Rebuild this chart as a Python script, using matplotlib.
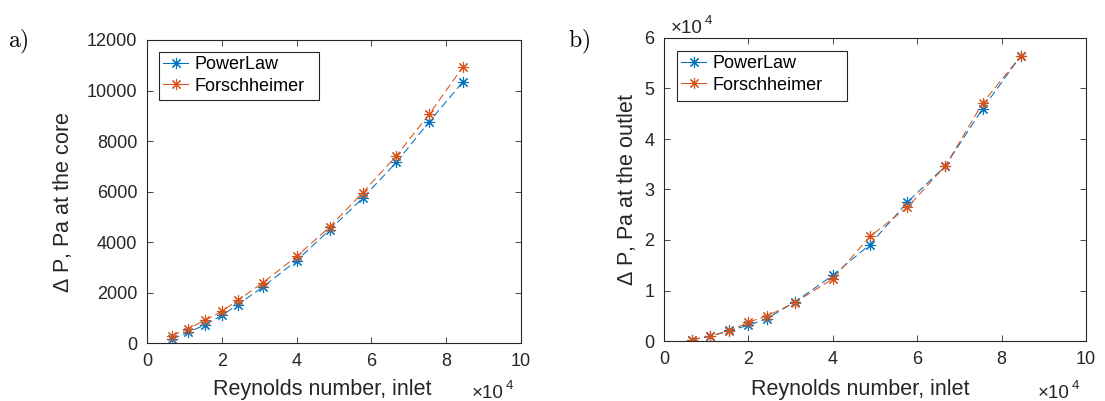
import matplotlib
matplotlib.use("Agg")
import matplotlib.pyplot as plt
from matplotlib.patches import Rectangle
import numpy as np

plt.rcParams['font.family'] = ['Liberation Sans', 'DejaVu Sans']
plt.rcParams['mathtext.fontset'] = 'custom'
plt.rcParams['mathtext.rm'] = 'Liberation Sans'

# Reynolds number at the inlet
reynolds = np.array([6700, 11000, 15500, 20000, 24300, 31000, 40000,
                     48800, 57700, 66700, 75500, 84500])

# Pressure drop at the core, Pa
core_powerlaw = [160, 420, 720, 1090, 1520, 2220, 3260, 4480, 5740, 7160, 8770, 10350]
core_forsch = [290, 570, 900, 1250, 1690, 2390, 3430, 4590, 5960, 7420, 9070, 10940]

# Pressure drop at the outlet, Pa
outlet_powerlaw = [260, 920, 2100, 3100, 4400, 7700, 13000, 19100, 27500, 34700, 46000, 56400]
outlet_forsch = [260, 1060, 1900, 3760, 4900, 7600, 12300, 20700, 26500, 34700, 47100, 56400]

series_names = ['PowerLaw', 'Forschheimer']
colors = ['#0072BD', '#D95319']
x_ticks = [0, 2, 4, 6, 8, 10]

TICK_FS = 13
LABEL_FS = 15.5
LEG_FS = 13
TXT = '#262626'
star = (8, 2, 0)

fig = plt.figure(figsize=(11.05, 4.01), dpi=100)
W, H = 1105, 401


def fx(x):
    return x / W


def fy(y):
    return 1 - y / H


def px_axes(x0, y0, x1, y1):
    return fig.add_axes([fx(x0), fy(y1), (x1 - x0) / W, (y1 - y0) / H])


def style_axes(ax):
    ax.tick_params(direction='in', top=True, right=True, length=4,
                   width=0.6, labelsize=TICK_FS, colors=TXT, pad=7)
    for s in ax.spines.values():
        s.set_linewidth(0.8)
        s.set_color(TXT)
    ax.set_xlim(0, 100000)
    ax.set_xticks([t * 1e4 for t in x_ticks])
    ax.set_xticklabels([str(t) for t in x_ticks])


def draw(ax, ys, box):
    for name, y, c in zip(series_names, ys, colors):
        ax.plot(reynolds, y, linestyle=(0, (7.5, 4)), linewidth=0.75, color=c,
                marker=star, markersize=8, markeredgewidth=0.8, label=name)
    x0, y0, x1, y1 = box
    leg = ax.legend(loc='upper left', bbox_to_anchor=(fx(x0 + 4), fy(y0 + 4)),
                    bbox_transform=fig.transFigure, borderaxespad=0,
                    fontsize=LEG_FS, frameon=False, handlelength=1.4,
                    handletextpad=0.35, borderpad=0, labelspacing=0.25)
    for h in leg.get_lines():
        h.set_linestyle('-')
    leg.set_zorder(6)
    frame = Rectangle((fx(x0), fy(y1)), (x1 - x0) / W, (y1 - y0) / H,
                      transform=fig.transFigure, facecolor='white',
                      edgecolor=TXT, linewidth=0.8, clip_on=False, zorder=5)
    ax.add_artist(frame)


# panel a) core
ax1 = px_axes(147, 40, 521, 343)
style_axes(ax1)
ax1.set_ylim(0, 12000)
ax1.set_yticks(np.arange(0, 12001, 2000))
draw(ax1, [core_powerlaw, core_forsch], (159, 52, 319, 100))

# panel b) outlet
ax2 = px_axes(664, 38, 1086, 341)
style_axes(ax2)
ax2.set_ylim(0, 60000)
yt = [0, 1, 2, 3, 4, 5, 6]
ax2.set_yticks([v * 1e4 for v in yt])
ax2.set_yticklabels([str(v) for v in yt])
draw(ax2, [outlet_powerlaw, outlet_forsch], (677, 51, 847, 101))


def ftext(x, y, s, **kw):
    fig.text(fx(x), fy(y), s, **kw)


# axis labels
for xc in (322, 860):
    ftext(xc, 390, 'Reynolds number, inlet', ha='center', va='center',
          fontsize=LABEL_FS, color=TXT)
ftext(62, 202, r'$\Delta$ P, Pa at the core', ha='center', va='center',
      rotation=90, fontsize=LABEL_FS, color=TXT)
ftext(627, 189, r'$\Delta$ P, Pa at the outlet', ha='center', va='center',
      rotation=90, fontsize=LABEL_FS, color=TXT)


# exponent multipliers: "x10" with a raised "4"
def multiplier(x_right_of_10, baseline):
    ftext(x_right_of_10, baseline, '\u00d710', ha='right', va='baseline',
          fontsize=TICK_FS + 0.5, color=TXT)
    ftext(x_right_of_10 + 2, baseline - 9, '4', ha='left', va='baseline',
          fontsize=9.5, color=TXT)


multiplier(504, 398)
multiplier(1070, 398)
multiplier(703, 33)

# panel tags
fig.text(fx(8), fy(47), r'$\mathrm{a)}$', fontsize=17, math_fontfamily='cm',
         ha='left', va='baseline')
fig.text(fx(568), fy(47), r'$\mathrm{b)}$', fontsize=17, math_fontfamily='cm',
         ha='left', va='baseline')

fig.savefig('out.png', dpi=100)
